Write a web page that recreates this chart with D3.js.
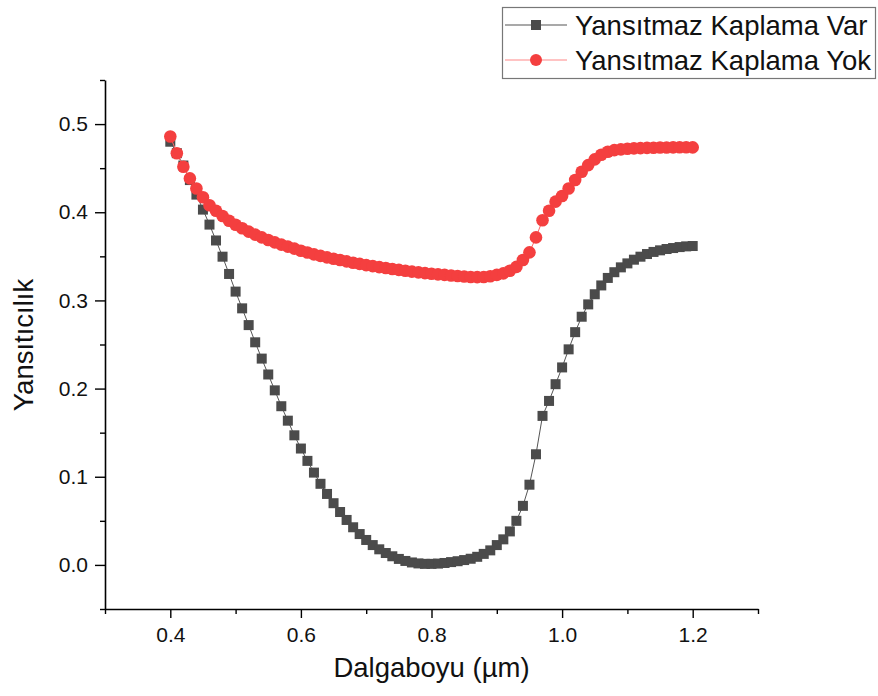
<!DOCTYPE html>
<html>
<head>
<meta charset="utf-8">
<script src="https://cdn.jsdelivr.net/npm/d3@7"></script>
<style>
  html, body { margin: 0; padding: 0; background: #fff; }
  svg { display: block; font-family: "Liberation Sans", Arial, sans-serif; }
</style>
</head>
<body>
<svg id="chart" width="878" height="696"></svg>
<script>
// Wavelength samples (µm), 0.40 … 1.20 in 0.01 steps
const wavelengths = d3.range(81).map(i => +(0.40 + i * 0.01).toFixed(2));

// Reflectance with anti-reflection coating
const withCoating = [
  0.480, 0.467, 0.453, 0.4365, 0.420, 0.403, 0.386, 0.368, 0.3496, 0.330,
  0.310, 0.291, 0.272, 0.2525, 0.234, 0.216, 0.198, 0.180, 0.1636, 0.147,
  0.132, 0.118, 0.1047, 0.092, 0.0805, 0.070, 0.060, 0.051, 0.0427, 0.035,
  0.0283, 0.0225, 0.0177, 0.0135, 0.0098, 0.0068, 0.0045, 0.0028, 0.0017, 0.0012,
  0.0012, 0.0015, 0.0022, 0.0032, 0.0042, 0.0055, 0.0070, 0.0092, 0.0125, 0.0165,
  0.0225, 0.029, 0.038, 0.050, 0.067, 0.091, 0.1255, 0.169, 0.186, 0.205,
  0.224, 0.2445, 0.264, 0.2815, 0.2955, 0.307, 0.317, 0.3255, 0.332, 0.3375,
  0.342, 0.3462, 0.3496, 0.3526, 0.355, 0.3568, 0.3583, 0.3594, 0.3605, 0.3613,
  0.3617
];

// Reflectance without anti-reflection coating
const withoutCoating = [
  0.486, 0.467, 0.4516, 0.4384, 0.427, 0.417, 0.408, 0.4017, 0.3957, 0.3904,
  0.3858, 0.3818, 0.378, 0.3746, 0.3715, 0.3686, 0.3658, 0.3633, 0.361, 0.3587,
  0.3564, 0.3543, 0.3522, 0.3505, 0.3488, 0.3473, 0.3458, 0.3443, 0.3428, 0.3414,
  0.340, 0.3389, 0.3378, 0.3367, 0.3356, 0.3346, 0.3337, 0.3327, 0.3318, 0.331,
  0.3302, 0.3295, 0.329, 0.3283, 0.3277, 0.3271, 0.3266, 0.3264, 0.3266, 0.3274,
  0.329, 0.3307, 0.3337, 0.338, 0.3458, 0.3545, 0.3715, 0.391, 0.4017, 0.412,
  0.4184, 0.427, 0.4365, 0.446, 0.4535, 0.460, 0.4652, 0.4686, 0.4705, 0.4713,
  0.472, 0.4724, 0.4727, 0.473, 0.4732, 0.4734, 0.4735, 0.4736, 0.4737, 0.4737,
  0.4736
];

const seriesNames = ["Yansıtmaz Kaplama Var", "Yansıtmaz Kaplama Yok"];
const xTicks = [0.4, 0.6, 0.8, 1.0, 1.2];
const xMinorTicks = [0.3, 0.5, 0.7, 0.9, 1.1, 1.3];
const yTicks = [0.0, 0.1, 0.2, 0.3, 0.4, 0.5];
const yMinorTicks = [-0.05, 0.05, 0.15, 0.25, 0.35, 0.45, 0.55];
const xTitle = "Dalgaboyu (µm)";
const yTitle = "Yansıtıcılık";

const svg = d3.select("#chart");
const x = d3.scaleLinear().domain([0.3, 1.3]).range([105, 758]);
const y = d3.scaleLinear().domain([-0.05, 0.55]).range([609, 80]);

const COL_DARK = "#4b4b4b";
const COL_RED = "#f43f3f";

// Axes: major ticks labelled, minor ticks between
function styleAxis(g) {
  g.selectAll("path.domain").attr("stroke", "#000").attr("stroke-width", 1.6);
  g.selectAll(".tick line").attr("stroke", "#000").attr("stroke-width", 1.4);
  g.selectAll("text").attr("fill", "#111").style("font-size", "21px")
    .style("font-family", "'Liberation Sans', Arial, sans-serif");
}

const gx = svg.append("g").attr("transform", `translate(0,${y.range()[0]})`)
  .call(d3.axisBottom(x).tickValues(xTicks).tickSize(9).tickPadding(9)
    .tickFormat(d3.format(".1f")).tickSizeOuter(0));
styleAxis(gx);
const gxm = svg.append("g").attr("transform", `translate(0,${y.range()[0]})`)
  .call(d3.axisBottom(x).tickValues(xMinorTicks).tickSize(5).tickFormat("").tickSizeOuter(0));
styleAxis(gxm);
gxm.select("path.domain").remove();

const gy = svg.append("g").attr("transform", `translate(${x.range()[0]},0)`)
  .call(d3.axisLeft(y).tickValues(yTicks).tickSize(10).tickPadding(7)
    .tickFormat(d3.format(".1f")).tickSizeOuter(0));
styleAxis(gy);
const gym = svg.append("g").attr("transform", `translate(${x.range()[0]},0)`)
  .call(d3.axisLeft(y).tickValues(yMinorTicks).tickSize(5).tickFormat("").tickSizeOuter(0));
styleAxis(gym);
gym.select("path.domain").remove();

// Axis titles
svg.append("text")
  .attr("x", (x.range()[0] + x.range()[1]) / 2).attr("y", 677)
  .attr("text-anchor", "middle").style("font-size", "27.5px").attr("fill", "#111")
  .text(xTitle);
svg.append("text")
  .attr("transform", "translate(33,345) rotate(-90)")
  .attr("text-anchor", "middle").style("font-size", "27.5px").attr("fill", "#111")
  .text(yTitle);

// Series
const coated = wavelengths.map((w, i) => [w, withCoating[i]]);
const uncoated = wavelengths.map((w, i) => [w, withoutCoating[i]]);
const line = d3.line().x(d => x(d[0])).y(d => y(d[1]));

svg.append("path").datum(coated).attr("d", line)
  .attr("fill", "none").attr("stroke", "#555").attr("stroke-width", 1);
svg.append("g").selectAll("rect").data(coated).join("rect")
  .attr("x", d => x(d[0]) - 5).attr("y", d => y(d[1]) - 5)
  .attr("width", 10).attr("height", 10).attr("fill", COL_DARK);

svg.append("path").datum(uncoated).attr("d", line)
  .attr("fill", "none").attr("stroke", "#f66").attr("stroke-width", 1);
svg.append("g").selectAll("circle").data(uncoated).join("circle")
  .attr("cx", d => x(d[0])).attr("cy", d => y(d[1])).attr("r", 6.3)
  .attr("fill", COL_RED);

// Legend
const lg = svg.append("g");
lg.append("rect").attr("x", 502.5).attr("y", 7.5).attr("width", 373).attr("height", 71)
  .attr("fill", "#fff").attr("stroke", "#777").attr("stroke-width", 1.2);
const rows = [
  { name: seriesNames[0], y: 25, line: "#555", fill: COL_DARK, shape: "square" },
  { name: seriesNames[1], y: 60, line: "#f88", fill: COL_RED, shape: "circle" }
];
rows.forEach(r => {
  lg.append("line").attr("x1", 505).attr("x2", 567).attr("y1", r.y).attr("y2", r.y)
    .attr("stroke", r.line).attr("stroke-width", 1.2);
  if (r.shape === "square") {
    lg.append("rect").attr("x", 531).attr("y", r.y - 5).attr("width", 10).attr("height", 10)
      .attr("fill", r.fill);
  } else {
    lg.append("circle").attr("cx", 536).attr("cy", r.y).attr("r", 6).attr("fill", r.fill);
  }
  lg.append("text").attr("x", 575).attr("y", r.y + 10)
    .style("font-size", "27.5px").attr("fill", "#111").text(r.name);
});
</script>
</body>
</html>
